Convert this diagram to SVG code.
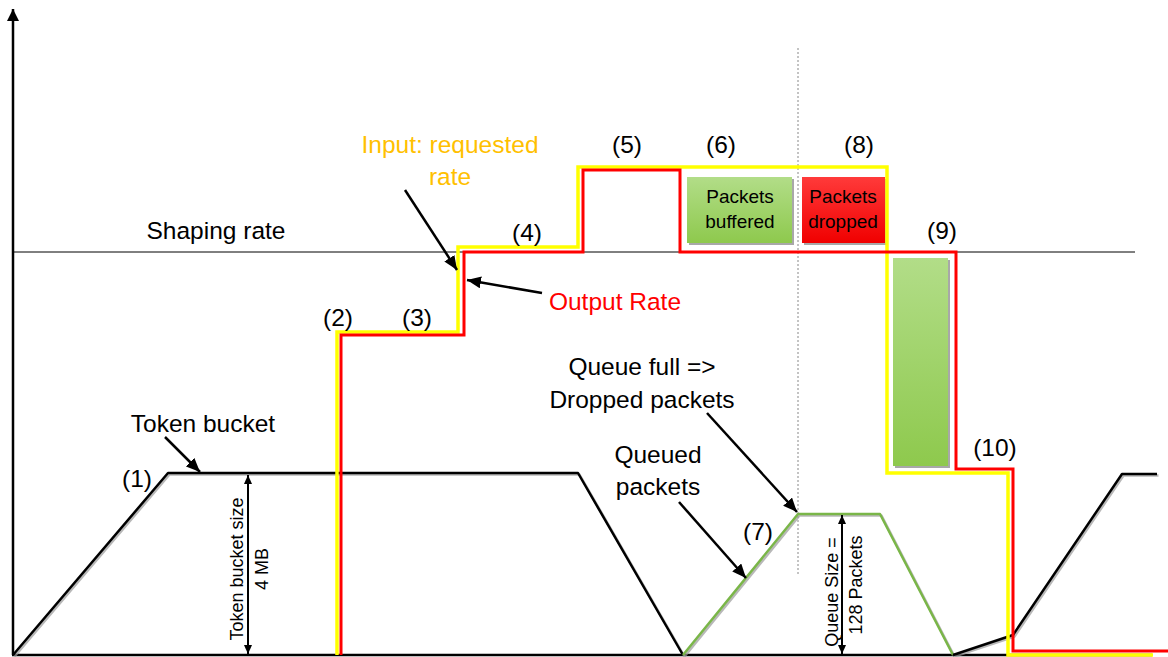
<svg xmlns="http://www.w3.org/2000/svg" width="1168" height="657" viewBox="0 0 1168 657">
<style>
text{font-family:"Liberation Sans",Arial,sans-serif;fill:#000}
.lbl{font-size:24.5px;text-anchor:middle}
.box{font-size:19px;text-anchor:middle}
.rot{font-size:18px;text-anchor:middle}
.yl{stroke:#ffff00;stroke-width:3.5;fill:none}
.rd{stroke:#ff0000;stroke-width:3;fill:none}
.tb{stroke:#000;stroke-width:2.5;fill:none;stroke-linejoin:round}
.sh{stroke:#9a9a9a;stroke-width:2.5;fill:none;opacity:0.7;stroke-linejoin:round}
.gr{stroke:#7ab648;stroke-width:2.5;fill:none;stroke-linejoin:round}
.ann{stroke:#000;stroke-width:2.5;fill:none;marker-end:url(#ah)}
.dim{stroke:#000;stroke-width:2;marker-start:url(#ds);marker-end:url(#de)}
.bsh{fill:#a8a8a8}
</style>
<defs>
<marker id="ah" markerUnits="userSpaceOnUse" markerWidth="16" markerHeight="12" refX="14" refY="6" orient="auto"><path d="M0,0 L14,6 L0,12 Z" fill="#000"/></marker>
<marker id="ds" markerUnits="userSpaceOnUse" markerWidth="9" markerHeight="8" refX="0" refY="4" orient="auto"><path d="M9,0 L0,4 L9,8 Z" fill="#000"/></marker>
<marker id="de" markerUnits="userSpaceOnUse" markerWidth="9" markerHeight="8" refX="9" refY="4" orient="auto"><path d="M0,0 L9,4 L0,8 Z" fill="#000"/></marker>
<marker id="ya" markerUnits="userSpaceOnUse" markerWidth="14" markerHeight="14" refX="12" refY="6" orient="auto"><path d="M0,0 L12,6 L0,12 Z" fill="#000"/></marker>
<linearGradient id="gg" x1="0" y1="0" x2="0" y2="1"><stop offset="0" stop-color="#b2dd88"/><stop offset="1" stop-color="#8ec94d"/></linearGradient>
<linearGradient id="rg" x1="0" y1="0" x2="0" y2="1"><stop offset="0" stop-color="#ff3a3a"/><stop offset="1" stop-color="#f00000"/></linearGradient>
</defs>

<g id="axes">
<line x1="13" y1="655" x2="13" y2="9" stroke="#000" stroke-width="2.5" marker-end="url(#ya)"/>
<line x1="12" y1="655" x2="1152" y2="655" stroke="#000" stroke-width="2.5"/>
<line x1="13" y1="252" x2="1135" y2="252" stroke="#000" stroke-width="1"/>
<line x1="798" y1="48" x2="798" y2="576" stroke="#888" stroke-width="1" stroke-dasharray="2,2"/>
</g>

<g id="boxes">
<g id="box-buffered">
<rect class="bsh" x="689" y="179" width="105" height="66"/>
<rect x="687" y="177" width="105" height="66" fill="url(#gg)"/>
<text class="box" x="740" y="203">Packets</text>
<text class="box" x="740" y="228">buffered</text>
</g>
<g id="box-dropped">
<rect class="bsh" x="804" y="179" width="83" height="66"/>
<rect x="802" y="177" width="83" height="66" fill="url(#rg)"/>
<text class="box" x="843" y="203">Packets</text>
<text class="box" x="843" y="228">dropped</text>
</g>
<g id="box-tall">
<rect class="bsh" x="895" y="260" width="55" height="208"/>
<rect x="893" y="258" width="55" height="208" fill="url(#gg)"/>
</g>
</g>

<g id="curves">
<path class="sh" transform="translate(1.5,1.5)" d="M13,655 L168,473 H578 L683,655"/>
<path class="tb" d="M13,655 L168,473 H578 L683,655"/>
<path class="sh" transform="translate(1.5,1.5)" d="M683,655 L798,514 H880 L953,655"/>
<path class="gr" d="M683,655 L798,514 H880 L953,655"/>
<path class="sh" transform="translate(1.5,1.5)" d="M953,655 L1013,635 L1122,474 H1157"/>
<path class="tb" d="M953,655 L1013,635 L1122,474 H1157"/>
<path id="input-rate" class="yl" d="M337,655 V332 H458 V247 H578 V167 H887 V473 H1008 V655 H1153"/>
<path id="output-rate" class="rd" d="M341,655 V335 H464 V252 H583 V170 H680 V252 H956 V469 H1013 V651 H1168"/>
</g>

<g id="connectors">
<line class="ann" x1="165" y1="437" x2="200" y2="472"/>
<line class="ann" x1="405" y1="190" x2="457" y2="270"/>
<line class="ann" x1="542" y1="293" x2="467" y2="280"/>
<line class="ann" x1="707" y1="413" x2="797" y2="512"/>
<line class="ann" x1="679" y1="502" x2="746" y2="578"/>
<line class="dim" x1="248" y1="475" x2="248" y2="654"/>
<line class="dim" x1="842" y1="515" x2="842" y2="654"/>
</g>

<g id="labels">
<text id="t-shaping" class="lbl" x="216" y="239">Shaping rate</text>
<text id="t-input" class="lbl" x="450" y="153" style="fill:#ffc000">Input: requested</text>
<text class="lbl" x="450" y="185" style="fill:#ffc000">rate</text>
<text id="t-output" class="lbl" x="615" y="310" style="fill:#ff0000">Output Rate</text>
<text id="t-token" class="lbl" x="203" y="432">Token bucket</text>
<text id="t-qfull" class="lbl" x="642" y="375">Queue full =&gt;</text>
<text class="lbl" x="642" y="408">Dropped packets</text>
<text id="t-queued" class="lbl" x="658" y="463">Queued</text>
<text class="lbl" x="658" y="495">packets</text>
<text class="lbl" x="137" y="487">(1)</text>
<text class="lbl" x="338" y="326">(2)</text>
<text class="lbl" x="417" y="326">(3)</text>
<text class="lbl" x="527" y="241">(4)</text>
<text class="lbl" x="627" y="153">(5)</text>
<text class="lbl" x="721" y="153">(6)</text>
<text class="lbl" x="758" y="540">(7)</text>
<text class="lbl" x="859" y="153">(8)</text>
<text class="lbl" x="942" y="239">(9)</text>
<text class="lbl" x="995" y="456">(10)</text>
<text class="rot" transform="translate(243,569) rotate(-90)">Token bucket size</text>
<text class="rot" transform="translate(268,569) rotate(-90)">4 MB</text>
<text class="rot" transform="translate(838,592) rotate(-90)">Queue Size =</text>
<text class="rot" transform="translate(862,585) rotate(-90)">128 Packets</text>
</g>
</svg>
